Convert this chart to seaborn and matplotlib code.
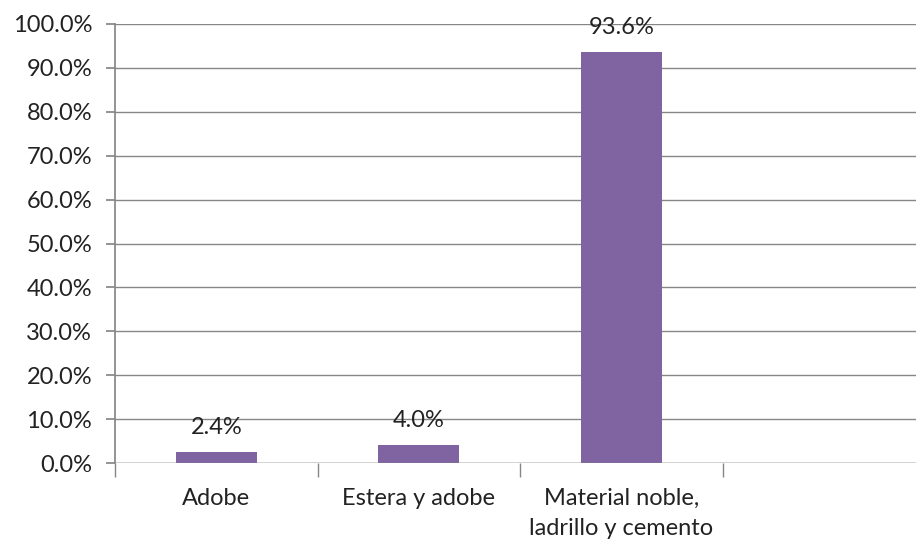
import matplotlib
matplotlib.use("Agg")
import matplotlib.pyplot as plt
import seaborn as sns
import pandas as pd
from matplotlib.ticker import FuncFormatter, FixedLocator

categories = ["Adobe", "Estera y adobe", "Material noble,\nladrillo y cemento"]
values = [2.4, 4.0, 93.6]
y_ticks = [0, 10, 20, 30, 40, 50, 60, 70, 80, 90, 100]

sns.set_theme(style="white")
plt.rcParams["font.family"] = ["Lato", "DejaVu Sans"]

df = pd.DataFrame({"categoria": categories, "porcentaje": values})

fig = plt.figure(figsize=(9.16, 5.42), dpi=100)
ax = fig.add_axes([115 / 916, 1 - 463 / 542, 810 / 916, 439 / 542])

sns.barplot(data=df, x="categoria", y="porcentaje", color="#8064A2",
            width=0.4, saturation=1, linewidth=0, ax=ax, zorder=3)

ax.set_xlim(-0.5, 3.5)
ax.set_ylim(0, 100)
ax.set_yticks(y_ticks)
ax.yaxis.set_major_formatter(FuncFormatter(lambda v, p: f"{v:.1f}%"))
ax.grid(axis="y", color="#868686", linewidth=1, zorder=0)
ax.set_axisbelow(True)

for side in ["top", "right", "bottom"]:
    ax.spines[side].set_visible(False)
ax.spines["left"].set_color("#868686")
ax.axhline(0, color="#868686", linewidth=1, zorder=4)

ax.tick_params(axis="y", which="major", length=6.5, color="#868686",
               labelsize=17, labelcolor="#222222", pad=10, left=True)
ax.tick_params(axis="x", which="major", length=0, labelsize=17,
               labelcolor="#222222", pad=18)
for lbl in ax.get_xticklabels():
    lbl.set_linespacing(1.55)
ax.xaxis.set_minor_locator(FixedLocator([-0.5, 0.5, 1.5, 2.5, 3.5]))
ax.tick_params(axis="x", which="minor", length=10, color="#868686",
               bottom=True, width=1)

ax.set_xlabel("")
ax.set_ylabel("")

for i, v in enumerate(values):
    ax.annotate(f"{v:.1f}%", (i, v), xytext=(0, 10.5), textcoords="offset points",
                ha="center", va="bottom", fontsize=17, color="#222222")

fig.savefig("out.png", dpi=100)
